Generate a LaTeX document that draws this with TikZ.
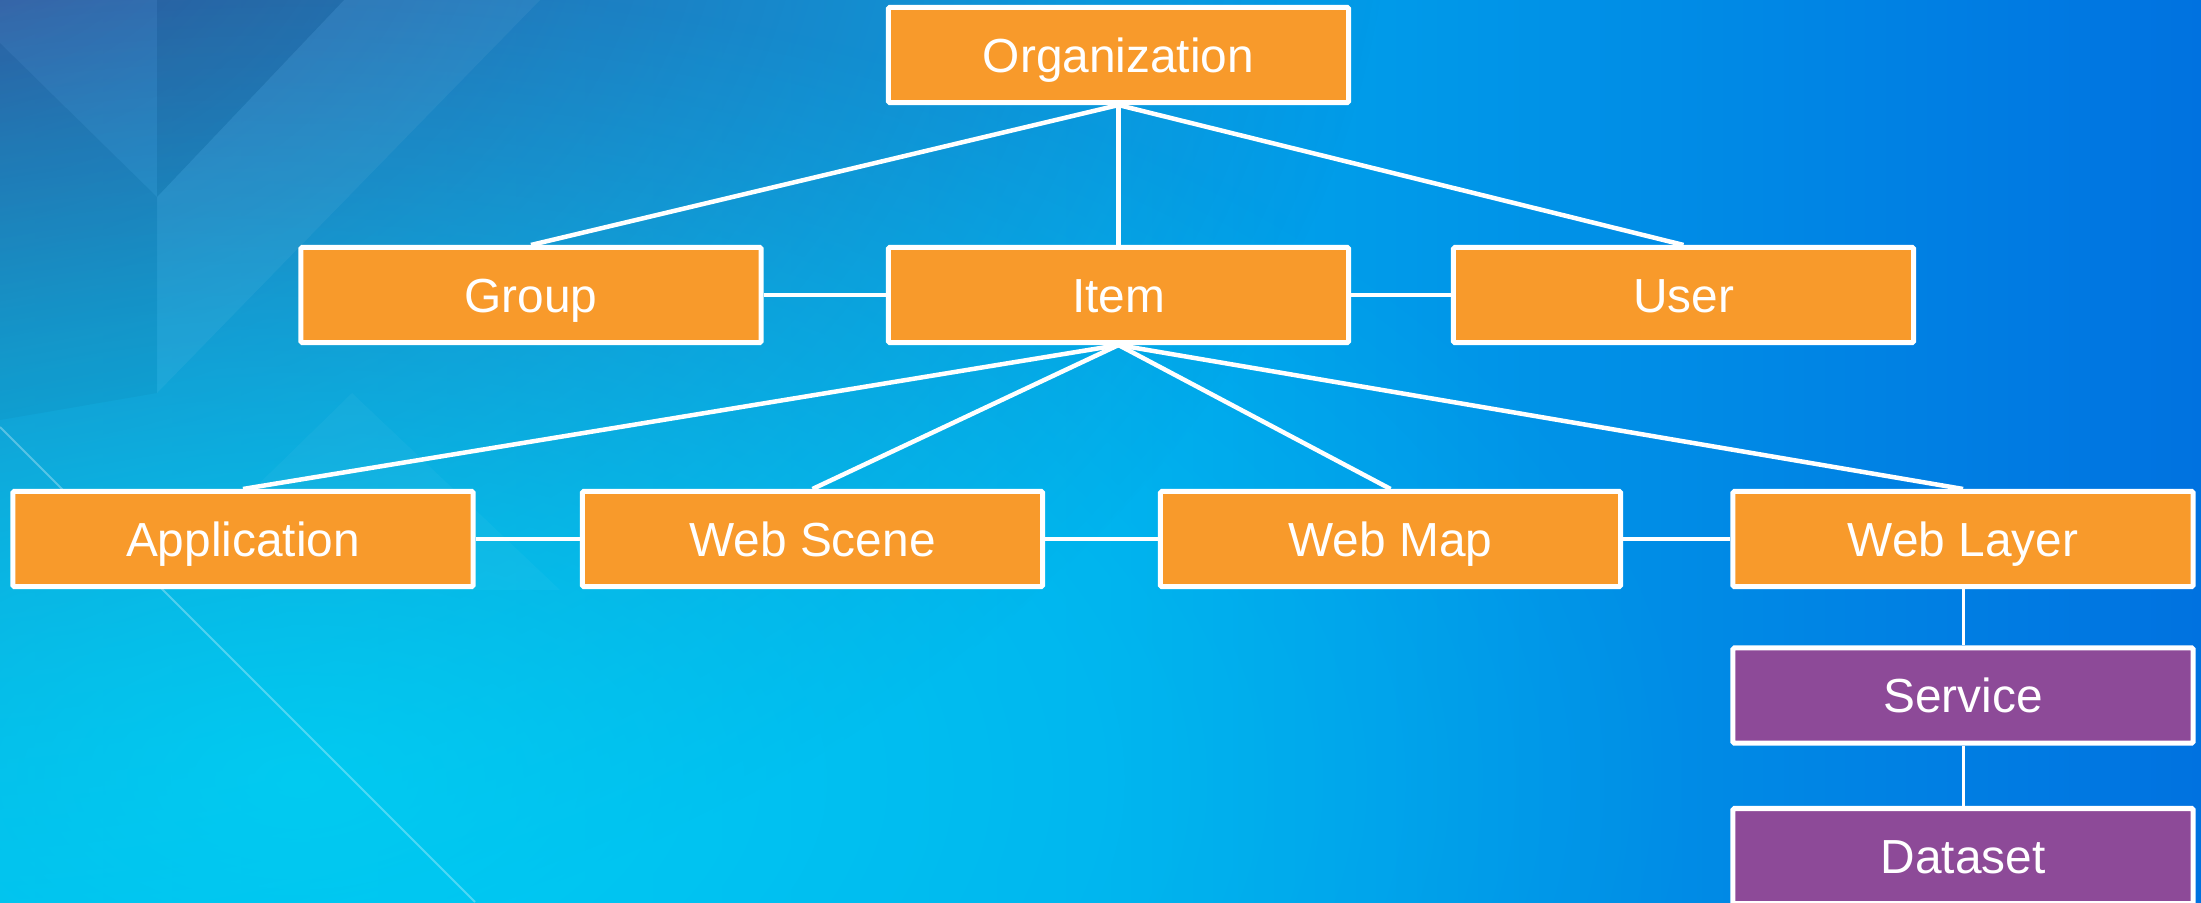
\documentclass[tikz,border=0pt]{standalone}
\usepackage{fontspec}
\setmainfont{Liberation Sans}
\usetikzlibrary{fadings}
\definecolor{boxorange}{HTML}{F89A2B}
\definecolor{boxpurple}{HTML}{8D4A98}
\definecolor{bgleft}{HTML}{00B8EE}
\definecolor{bgmid}{HTML}{00A8EC}
\definecolor{bgright}{HTML}{0072E0}
\definecolor{bgdark}{HTML}{3C4E96}
\definecolor{bgcyan}{HTML}{00D4F5}
\tikzfading[name=glow, inner color=transparent!0, outer color=transparent!100]
\pgfdeclarelayer{bg}
\pgfdeclarelayer{edges}
\pgfsetlayers{bg,edges,main}
\begin{document}
\begin{tikzpicture}[x=0.01cm, y=-0.01cm,
  box/.style={draw=white, line width=0.05cm, rounded corners=0.4pt,
    minimum width=4.6cm, minimum height=0.95cm, inner sep=0pt,
    text=white, font=\fontsize{13.6pt}{16pt}\selectfont,
    text height=9.74pt, text depth=0pt},
  obox/.style={box, fill=boxorange},
  pbox/.style={box, fill=boxpurple},
  link/.style={draw=white, line width=0.045cm},
  thinlink/.style={draw=white, line width=0.03cm}]
\useasboundingbox (0,0) rectangle (2201,902);
% background
\begin{pgfonlayer}{bg}
  \shade[left color=bgleft, right color=bgright, middle color=bgmid] (0,0) rectangle (2201,902);
  \begin{scope}
    \clip (0,0) rectangle (2201,902);
    \fill[bgdark, path fading=glow, opacity=0.95] (-100,-150) ellipse [x radius=1500, y radius=1150];
    \fill[bgcyan, path fading=glow, opacity=0.8] (300,780) ellipse [x radius=1400, y radius=800];
    \fill[white, opacity=0.03] (0,0) -- (157,0) -- (157,197) -- (0,43) -- cycle;
    \fill[black, opacity=0.05] (157,0) -- (344,0) -- (157,197) -- cycle;
    \fill[white, opacity=0.05] (157,197) -- (344,0) -- (540,0) -- (157,393) -- cycle;
    \fill[black, opacity=0.03] (0,43) -- (157,197) -- (157,393) -- (0,420) -- cycle;
    \fill[white, opacity=0.035] (352,393) -- (560,590) -- (150,590) -- cycle;
    \draw[white, opacity=0.3, line width=0.018cm] (0,427) -- (475,902);
  \end{scope}
\end{pgfonlayer}
% nodes
\node[obox] (org) at (1118.5,55) {Organization};
\node[obox] (group) at (531,295) {Group};
\node[obox] (item) at (1118.5,295) {Item};
\node[obox] (user) at (1683.5,295) {User};
\node[obox] (app) at (243,539) {Application};
\node[obox] (scene) at (812.5,539) {Web Scene};
\node[obox] (map) at (1390.5,539) {Web Map};
\node[obox] (layer) at (1963,539) {Web Layer};
\node[pbox] (service) at (1963,695.5) {Service};
\node[pbox] (dataset) at (1963,856) {Dataset};
% connectors
\begin{pgfonlayer}{edges}
  \draw[link] (org.south) -- (group.north);
  \draw[link] (org.south) -- (item.north);
  \draw[link] (org.south) -- (user.north);
  \draw[link] (group.east) -- (item.west);
  \draw[link] (item.east) -- (user.west);
  \draw[link] (item.south) -- (app.north);
  \draw[link] (item.south) -- (scene.north);
  \draw[link] (item.south) -- (map.north);
  \draw[link] (item.south) -- (layer.north);
  \draw[link] (app.east) -- (scene.west);
  \draw[link] (scene.east) -- (map.west);
  \draw[link] (map.east) -- (layer.west);
  \draw[thinlink] (layer.south) -- (service.north);
  \draw[thinlink] (service.south) -- (dataset.north);
\end{pgfonlayer}
\end{tikzpicture}
\end{document}
